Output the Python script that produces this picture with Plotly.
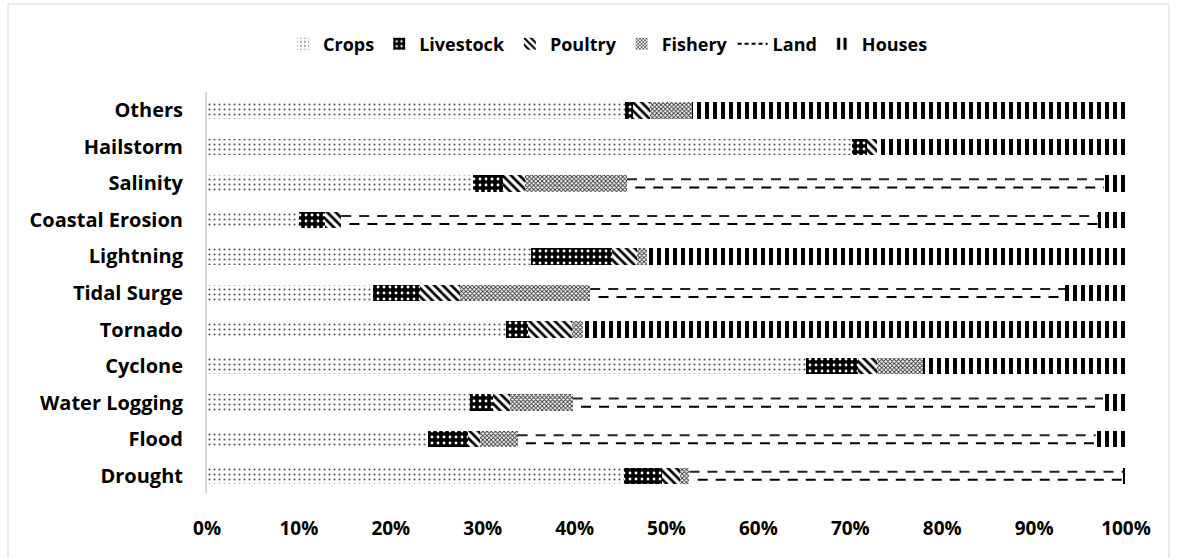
import plotly.graph_objects as go

categories = ["Others", "Hailstorm", "Salinity", "Coastal Erosion", "Lightning", "Tidal Surge",
              "Tornado", "Cyclone", "Water Logging", "Flood", "Drought"]
crops = [45.5, 70.2, 28.9, 10.0, 35.3, 18.1, 32.5, 65.2, 28.6, 24.0, 45.4]
livestock = [0.9, 1.6, 3.3, 2.8, 8.8, 5.1, 2.4, 5.6, 2.5, 4.4, 4.1]
poultry = [1.8, 1.1, 2.4, 1.8, 2.7, 4.3, 4.8, 2.1, 1.9, 1.3, 2.0]
fishery = [4.6, 0.0, 11.1, 0.0, 1.1, 14.2, 1.2, 5.0, 6.8, 4.1, 1.0]
land = [0.0, 0.0, 51.9, 82.35, 0.0, 51.7, 0.0, 0.0, 57.7, 62.9, 47.2]
houses = [47.2, 27.1, 2.4, 3.05, 52.1, 6.6, 59.1, 22.1, 2.5, 3.3, 0.3]
x_ticks = [0, 10, 20, 30, 40, 50, 60, 70, 80, 90, 100]
x_ticklabels = ["0%", "10%", "20%", "30%", "40%", "50%", "60%", "70%", "80%", "90%", "100%"]

n = len(categories)
ypos = [n - 1 - i for i in range(n)]  # Others on top

FONT = "Open Sans"
fig = go.Figure()

def add_bar(name, vals, pattern, rank, showlegend=True):
    fig.add_trace(go.Bar(
        name=name, y=ypos, x=vals, orientation="h",
        marker=dict(color="white", line=dict(width=0), pattern=pattern),
        legendrank=rank, showlegend=showlegend, hoverinfo="x+name",
    ))

add_bar("Crops", crops, dict(shape=".", fgcolor="#555555", bgcolor="white", size=5, solidity=0.14, fillmode="replace"), 1)
add_bar("Livestock", livestock, dict(shape=".", fgcolor="white", bgcolor="black", size=6, solidity=0.18, fillmode="replace"), 2)
add_bar("Poultry", poultry, dict(shape="\\", fgcolor="black", bgcolor="white", size=6, solidity=0.45, fillmode="replace"), 3)
add_bar("Fishery", fishery, dict(shape="x", fgcolor="#333333", bgcolor="white", size=3, solidity=0.5, fillmode="replace"), 4)
add_bar("Land", land, dict(shape="", fgcolor="white", bgcolor="white"), 5, showlegend=False)
add_bar("Houses", houses, dict(shape="|", fgcolor="black", bgcolor="white", size=8, solidity=0.5, fillmode="replace"), 6)

# dashed lines for Land segments, derived from the data
top_x, top_y, bot_x, bot_y = [], [], [], []
for i in range(n):
    if land[i] <= 0:
        continue
    start = crops[i] + livestock[i] + poultry[i] + fishery[i]
    end = start + land[i]
    top_x += [start, end, None]
    top_y += [ypos[i] + 0.11, ypos[i] + 0.11, None]
    bot_x += [start + 0.9, end, None]
    bot_y += [ypos[i] - 0.11, ypos[i] - 0.11, None]

fig.add_trace(go.Scatter(x=top_x, y=top_y, mode="lines", showlegend=False, hoverinfo="skip",
                         line=dict(color="#222222", width=2, dash="10px,8px")))
fig.add_trace(go.Scatter(x=bot_x, y=bot_y, mode="lines", showlegend=False, hoverinfo="skip",
                         line=dict(color="black", width=2, dash="10px,8px")))
# legend entry for Land
fig.add_trace(go.Scatter(x=[None], y=[None], mode="lines", name="Land", legendrank=5,
                         line=dict(color="black", width=2, dash="4px,3px")))

fig.update_layout(
    width=1177, height=558,
    barmode="stack", bargap=0.55,
    plot_bgcolor="white", paper_bgcolor="white",
    margin=dict(l=207, r=51, t=92, b=64, autoexpand=False),
    font=dict(family=FONT, size=19, color="black"),
    legend=dict(orientation="h", x=(608 - 207) / 919, xanchor="center", y=1 + 48 / 402, yanchor="middle",
                font=dict(family=FONT, size=18, color="black", weight="bold"),
                bgcolor="rgba(0,0,0,0)", traceorder="normal", itemwidth=30),
    showlegend=True,
    shapes=[dict(type="rect", xref="paper", yref="paper",
                 x0=-199 / 919, x1=(1169 - 207) / 919, y0=-70 / 402, y1=1 + 88 / 402,
                 line=dict(color="#d9d9d9", width=1), fillcolor="rgba(0,0,0,0)", layer="below")],
)
fig.update_xaxes(range=[0, 100], tickvals=x_ticks, ticktext=x_ticklabels, showgrid=False,
                 zeroline=False, showline=False, ticks="", ticklabelstandoff=21,
                 tickfont=dict(family=FONT, size=19, color="black", weight="bold"))
fig.update_yaxes(range=[-0.5, n - 0.5], tickvals=ypos, ticktext=categories, showgrid=False,
                 zeroline=False, showline=True, linecolor="#d9d9d9", linewidth=2, ticks="",
                 ticklabelstandoff=18,
                 tickfont=dict(family=FONT, size=20, color="black", weight="bold"))

fig.write_html("out.html")
